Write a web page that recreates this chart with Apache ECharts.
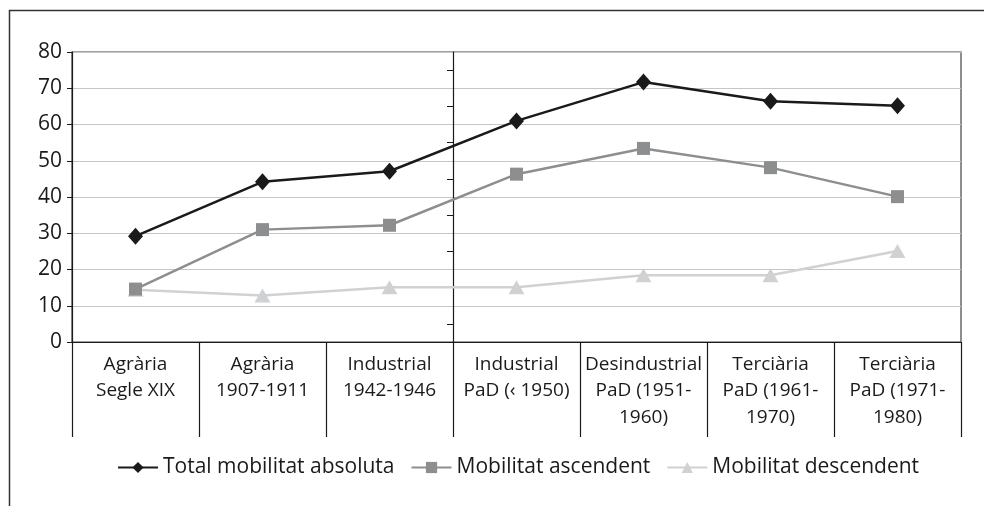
<!DOCTYPE html>
<html>
<head>
<meta charset="utf-8">
<script src="https://cdn.jsdelivr.net/npm/echarts@6/dist/echarts.min.js"></script>
<style>
html, body { margin: 0; padding: 0; background: #fff; }
#chart { width: 984px; height: 506px; }
</style>
</head>
<body>
<div id="chart"></div>
<script>
var categories = [
	'Agrària\nSegle XIX',
	'Agrària\n1907-1911',
	'Industrial\n1942-1946',
	'Industrial\nPaD (‹ 1950)',
	'Desindustrial\nPaD (1951-\n1960)',
	'Terciària\nPaD (1961-\n1970)',
	'Terciària\nPaD (1971-\n1980)'
];
var totalMobilitat = [29.2, 44.2, 47.1, 61.0, 71.7, 66.4, 65.2];
var mobilitatAscendent = [14.6, 31.0, 32.2, 46.3, 53.4, 48.1, 40.1];
var mobilitatDescendent = [14.4, 12.8, 15.1, 15.1, 18.4, 18.4, 25.1];
var yTicks = [0, 10, 20, 30, 40, 50, 60, 70, 80];
var midTicks = [5, 15, 25, 35, 45, 55, 65, 75];

var font = 'Open Sans';
var chart = echarts.init(document.getElementById('chart'));

chart.setOption({
	animation: false,
	textStyle: { fontFamily: font, color: '#1a1a1a' },
	graphic: [
		{
			type: 'rect',
			shape: { x: 9.5, y: 10.5, width: 1100, height: 600 },
			style: { fill: null, stroke: '#333', lineWidth: 1.5 },
			silent: true
		}
	],
	grid: {
		left: 72, right: 23, top: 52, bottom: 164,
		show: true,
		borderColor: '#444',
		borderWidth: 1.2
	},
	legend: {
		left: 112,
		top: 452,
		itemWidth: 40,
		itemHeight: 14,
		itemGap: 16,
		textStyle: { fontFamily: font, fontSize: 21, color: '#1a1a1a' },
		data: ['Total mobilitat absoluta', 'Mobilitat ascendent', 'Mobilitat descendent']
	},
	xAxis: {
		type: 'category',
		data: categories,
		boundaryGap: true,
		axisLine: { lineStyle: { color: '#1a1a1a', width: 1.2 } },
		axisTick: { show: true, interval: 0, length: 95, lineStyle: { color: '#1a1a1a', width: 1.2 } },
		axisLabel: {
			interval: 0,
			margin: 9,
			fontSize: 19,
			lineHeight: 26.5,
			color: '#1a1a1a',
			fontFamily: font
		}
	},
	yAxis: [
		{
			type: 'value',
			min: yTicks[0],
			max: yTicks[yTicks.length - 1],
			interval: 10,
			axisLine: { show: true, lineStyle: { color: '#1a1a1a', width: 1.2 } },
			axisTick: { show: true, length: 5, lineStyle: { color: '#1a1a1a' } },
			axisLabel: { fontSize: 21, margin: 10, color: '#1a1a1a', fontFamily: font },
			splitLine: { show: true, lineStyle: { color: '#c6c6c6', width: 1.2 } }
		},
		{
			type: 'value',
			position: 'left',
			offset: -381,
			min: 0,
			max: 80,
			interval: 10,
			axisLine: { show: true, onZero: false, lineStyle: { color: '#1a1a1a', width: 1.2 } },
			axisTick: { show: true, length: 6, customValues: midTicks, lineStyle: { color: '#1a1a1a' } },
			axisLabel: { show: false },
			splitLine: { show: false }
		}
	],
	series: [
		{
			name: 'Total mobilitat absoluta',
			type: 'line',
			data: totalMobilitat,
			symbol: 'diamond',
			symbolSize: [15, 17],
			itemStyle: { color: '#1a1a1a' },
			lineStyle: { color: '#1a1a1a', width: 2.5 },
			z: 4
		},
		{
			name: 'Mobilitat ascendent',
			type: 'line',
			data: mobilitatAscendent,
			symbol: 'rect',
			symbolSize: 13,
			itemStyle: { color: '#8d8e90' },
			lineStyle: { color: '#8d8e90', width: 2.5 },
			z: 3
		},
		{
			name: 'Mobilitat descendent',
			type: 'line',
			data: mobilitatDescendent,
			symbol: 'triangle',
			symbolSize: [16, 14],
			itemStyle: { color: '#d0d1d3' },
			lineStyle: { color: '#d0d1d3', width: 2.5 },
			z: 2
		}
	]
});
</script>
</body>
</html>
